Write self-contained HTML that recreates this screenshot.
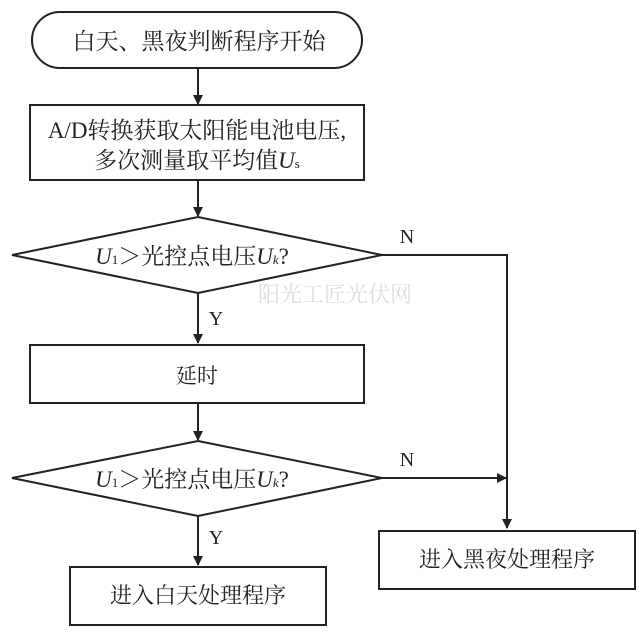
<!DOCTYPE html>
<html><head><meta charset="utf-8"><style>
body{margin:0;background:#fff}
svg text{font-family:"Liberation Serif","Noto Serif CJK SC",serif;fill:#222}
</style></head><body>
<svg width="640" height="635" viewBox="0 0 640 635" xmlns="http://www.w3.org/2000/svg">
<defs><marker id="a" markerWidth="10" markerHeight="10" refX="9" refY="5" orient="auto" markerUnits="userSpaceOnUse"><path d="M0,0 L10,5 L0,10 z" fill="#222"/></marker></defs>
<g stroke="#222" stroke-width="2" fill="none">
<rect x="32" y="12" width="330" height="56" rx="28"/>
<line x1="198" y1="68" x2="198" y2="104" marker-end="url(#a)"/>
<rect x="30" y="105" width="334" height="75"/>
<line x1="198" y1="180" x2="198" y2="216" marker-end="url(#a)"/>
<polygon points="198,217 382,255 198,293 12,255"/>
<polyline points="382,255 507,255 507,528" marker-end="url(#a)"/>
<line x1="198" y1="293" x2="198" y2="343" marker-end="url(#a)"/>
<rect x="30" y="345" width="334" height="58"/>
<line x1="198" y1="403" x2="198" y2="440" marker-end="url(#a)"/>
<polygon points="198,441 382,478 198,516 12,478"/>
<line x1="382" y1="478" x2="506" y2="478" marker-end="url(#a)"/>
<line x1="198" y1="516" x2="198" y2="565" marker-end="url(#a)"/>
<rect x="70" y="567" width="256" height="58"/>
<rect x="379" y="531" width="256" height="58"/>
</g>
<g font-size="23" text-anchor="middle">
<text x="199" y="49">白天、黑夜判断程序开始</text>
<text x="197" y="138">A/D转换获取太阳能电池电压,</text>
<text x="197" y="168">多次测量取平均值<tspan font-style="italic">U</tspan><tspan font-size="13">s</tspan></text>
<text x="192" y="264"><tspan font-style="italic">U</tspan><tspan font-size="13">1</tspan>＞光控点电压<tspan font-style="italic">U</tspan><tspan font-size="13" font-style="italic">k</tspan>?</text>
<text x="197" y="383" font-size="21">延时</text>
<text x="192" y="487"><tspan font-style="italic">U</tspan><tspan font-size="13">1</tspan>＞光控点电压<tspan font-style="italic">U</tspan><tspan font-size="13" font-style="italic">k</tspan>?</text>
<text x="198" y="603" font-size="22">进入白天处理程序</text>
<text x="507" y="567" font-size="22">进入黑夜处理程序</text>
<text x="407" y="243" font-size="20">N</text>
<text x="407" y="466" font-size="20">N</text>
<text x="216" y="325" font-size="20">Y</text>
<text x="216" y="544" font-size="20">Y</text>
</g>
<text x="335" y="302" font-size="22" style="fill:#ddd" text-anchor="middle">阳光工匠光伏网</text>
</svg>
</body></html>
